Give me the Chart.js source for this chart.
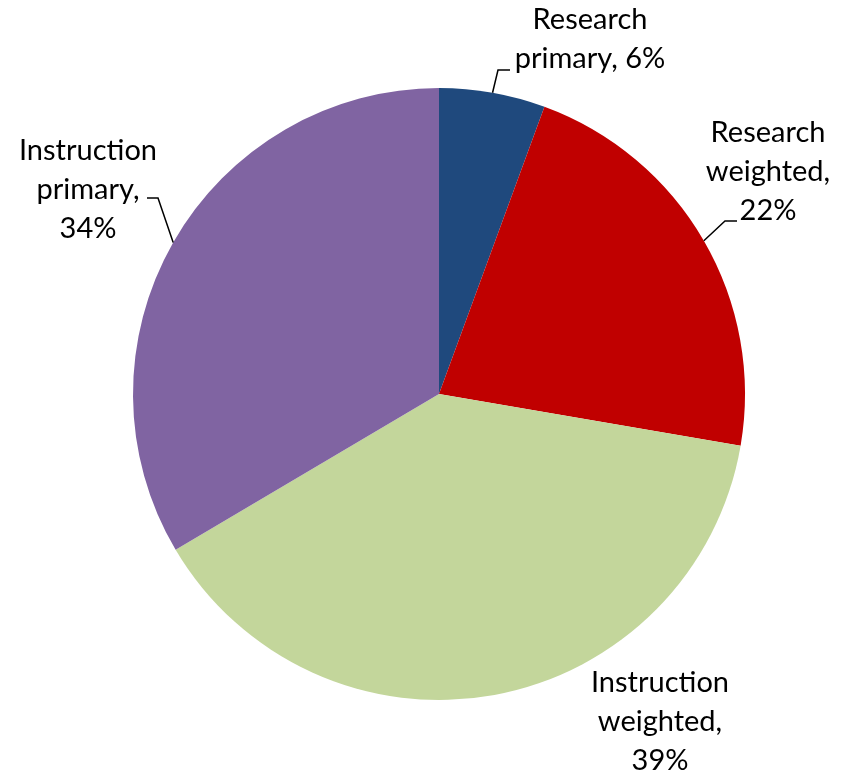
<!DOCTYPE html>
<html>
<head>
<meta charset="utf-8">
<script src="https://cdn.jsdelivr.net/npm/chart.js@4"></script>
<style>
  html, body { margin: 0; padding: 0; background: #ffffff; }
  #wrap { width: 847px; height: 771px; }
</style>
</head>
<body>
<div id="wrap"><canvas id="myChart" width="847" height="771"></canvas></div>
<script>
// Slice data (clockwise from 12 o'clock)
const categories = ['Research primary', 'Research weighted', 'Instruction weighted', 'Instruction primary'];
const shares = [5.6, 22.1, 38.8, 33.5];
const shareLabels = ['6%', '22%', '39%', '34%'];
const labelLines = [
    ['Research', 'primary, 6%'],
    ['Research', 'weighted,', '22%'],
    ['Instruction', 'weighted,', '39%'],
    ['Instruction', 'primary,', '34%']
];
const colors = ['#1F497D', '#C00000', '#C3D69B', '#8064A2'];

// Where each label block sits (centre x, first line y) and its leader elbow
const labelPos = [[590, 20], [768, 133], [660, 683], [88, 151]];
const leaders = [[[498, 70], [510, 70]], [[725, 221], [737, 221]], null, [[158, 198], [147, 198]]];
const lineGap = 39;

// Draw the outside labels with leader lines
const outsideLabels = {
    id: 'outsideLabels',
    afterDatasetsDraw(chart) {
        const ctx = chart.ctx;
        const arcs = chart.getDatasetMeta(0).data;
        ctx.save();
        ctx.fillStyle = '#000000';
        ctx.strokeStyle = '#000000';
        ctx.lineWidth = 1.5;
        ctx.font = '29px Lato';
        ctx.textAlign = 'center';
        ctx.textBaseline = 'middle';
        arcs.forEach((arc, i) => {
            const p = arc.getProps(['x', 'y', 'startAngle', 'endAngle', 'outerRadius'], true);
            const mid = (p.startAngle + p.endAngle) / 2;
            const lead = leaders[i];
            if (lead) {
                ctx.beginPath();
                ctx.moveTo(p.x + Math.cos(mid) * p.outerRadius, p.y + Math.sin(mid) * p.outerRadius);
                ctx.lineTo(lead[0][0], lead[0][1]);
                ctx.lineTo(lead[1][0], lead[1][1]);
                ctx.stroke();
            }
            labelLines[i].forEach((txt, j) => {
                ctx.fillText(txt, labelPos[i][0], labelPos[i][1] + j * lineGap);
            });
        });
        ctx.restore();
    }
};

const ctx = document.getElementById('myChart').getContext('2d');
new Chart(ctx, {
    type: 'pie',
    data: {
        labels: categories,
        datasets: [{
            data: shares,
            backgroundColor: colors,
            borderWidth: 0
        }]
    },
    options: {
        responsive: false,
        animation: false,
        layout: { padding: { left: 133, right: 102, top: 88, bottom: 71 } },
        plugins: {
            legend: { display: false },
            tooltip: { enabled: false }
        }
    },
    plugins: [outsideLabels]
});
</script>
</body>
</html>
